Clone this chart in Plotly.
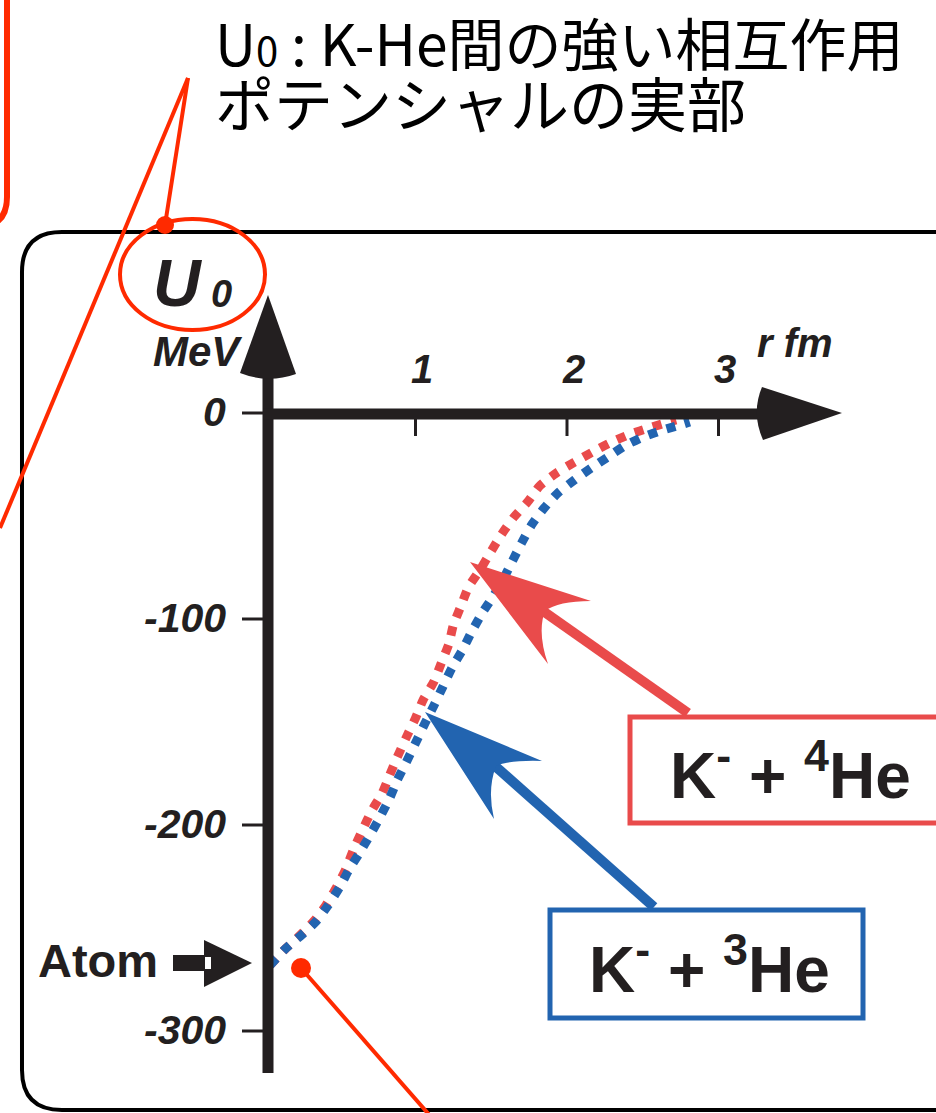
import plotly.graph_objects as go

# K- + 3He (blue) real part of the potential, r in fm, U0 in MeV
r_he3 = [0.04, 0.14, 0.24, 0.34, 0.42, 0.50, 0.56, 0.63, 0.70, 0.77, 0.83, 0.88,
         0.94, 1.00, 1.06, 1.12, 1.18, 1.24, 1.31, 1.37, 1.44, 1.51, 1.58, 1.64,
         1.70, 1.77, 1.85, 1.94, 2.05, 2.16, 2.27, 2.38, 2.50, 2.63, 2.77, 2.81]
u_he3 = [-268.0, -260.2, -253.9, -247.1, -239.3, -230.1, -221.8, -213.6, -204.9,
         -195.6, -186.9, -178.2, -169.4, -160.2, -151.0, -142.2, -133.0, -123.8,
         -115.0, -106.3, -97.1, -89.3, -80.6, -71.8, -63.1, -53.9, -46.1, -38.8,
         -32.5, -26.7, -21.4, -16.0, -11.7, -8.3, -5.3, -4.4]

# K- + 4He (red)
r_he4 = [0.04, 0.14, 0.24, 0.33, 0.41, 0.48, 0.54, 0.59, 0.65, 0.71, 0.78, 0.83,
         0.88, 0.94, 1.00, 1.05, 1.12, 1.17, 1.22, 1.25, 1.30, 1.35, 1.43, 1.50,
         1.57, 1.65, 1.74, 1.82, 1.93, 2.05, 2.17, 2.28, 2.42, 2.54, 2.67, 2.72]
u_he4 = [-268.0, -260.2, -253.4, -246.6, -238.8, -230.1, -221.4, -212.1, -202.4,
         -193.2, -184.5, -175.7, -167.0, -157.3, -148.1, -139.3, -130.6, -121.4,
         -112.1, -102.9, -93.7, -84.5, -75.7, -67.0, -58.7, -50.5, -43.2, -35.4,
         -29.1, -23.8, -18.9, -14.6, -10.2, -7.3, -4.4, -3.4]

x_ticks = [1, 2, 3]
y_ticks = [0, -100, -200, -300]

W, H = 936, 1113
# pixel position of the diagram origin and scale
X0, Y0, SX, SY = 264, 413, 151.5, 2.06

BLACK = "#231F20"
RED = "#E94B4B"
BLUE = "#2264B0"
CALLOUT = "#FF2A00"
FONT = "Liberation Sans, Arial, sans-serif"


def pt(x, y):
    return f"{x / W:.5f},{1 - y / H:.5f}"


def path(s):
    # s: list of (cmd, [(x, y), ...]) in pixels
    out = []
    for cmd, pts in s:
        out.append(cmd + " " + " ".join(pt(*p) for p in pts))
    return " ".join(out)


def line(x0, y0, x1, y1, color, width):
    return dict(type="line", xref="paper", yref="paper",
                x0=x0 / W, y0=1 - y0 / H, x1=x1 / W, y1=1 - y1 / H,
                line=dict(color=color, width=width))


def fill_path(s, color):
    return dict(type="path", xref="paper", yref="paper", path=path(s),
                fillcolor=color, line=dict(width=0))


def rect(x0, y0, x1, y1, color, width, fill=None):
    return dict(type="rect", xref="paper", yref="paper",
                x0=x0 / W, y0=1 - y0 / H, x1=x1 / W, y1=1 - y1 / H,
                line=dict(color=color, width=width), fillcolor=fill)


def dot(x, y, rad, color):
    return dict(type="circle", xref="paper", yref="paper",
                x0=(x - rad) / W, x1=(x + rad) / W,
                y0=1 - (y + rad) / H, y1=1 - (y - rad) / H,
                fillcolor=color, line=dict(width=0))


fig = go.Figure()

fig.add_trace(go.Scatter(x=r_he4, y=u_he4, mode="lines",
                         line=dict(color=RED, width=9, dash="9px,10px",
                                   shape="spline", smoothing=0.6),
                         hoverinfo="skip"))
fig.add_trace(go.Scatter(x=r_he3, y=u_he3, mode="lines",
                         line=dict(color=BLUE, width=9, dash="9px,10px",
                                   shape="spline", smoothing=0.6),
                         hoverinfo="skip"))

shapes = []

# frame of the panel (rounded) and the red box edge at the top left
shapes.append(dict(type="path", xref="paper", yref="paper",
                   path=path([("M", [(960, 232)]), ("L", [(62, 232)]),
                              ("Q", [(22, 232), (22, 272)]), ("L", [(22, 1070)]),
                              ("Q", [(22, 1110), (62, 1110)]), ("L", [(960, 1110)])]),
                   line=dict(color="black", width=4)))
shapes.append(dict(type="path", xref="paper", yref="paper",
                   path=path([("M", [(7, -5)]), ("L", [(7, 197)]),
                              ("Q", [(7, 227), (-23, 227)])]),
                   line=dict(color=CALLOUT, width=6)))

# axes
shapes.append(line(268, 376, 268, 1073, BLACK, 11))
shapes.append(line(263, 414, 762, 414, BLACK, 11))
shapes.append(fill_path([("M", [(268, 295)]), ("L", [(296, 374)]),
                         ("Q", [(268, 384), (240, 373)]), ("Z", [])], BLACK))
shapes.append(fill_path([("M", [(842, 413)]), ("L", [(762, 387)]),
                         ("Q", [(751, 413), (763, 440)]), ("Z", [])], BLACK))

for t in x_ticks:
    shapes.append(dict(type="line", xref="x", yref="paper", x0=t, x1=t,
                       y0=1 - 419 / H, y1=1 - 436 / H,
                       line=dict(color=BLACK, width=3)))
for t in y_ticks:
    shapes.append(dict(type="line", xref="paper", yref="y", x0=242 / W, x1=264 / W,
                       y0=t, y1=t, line=dict(color=BLACK, width=3)))

# Atom arrow
shapes.append(rect(173, 955, 206, 971, BLACK, 0, BLACK))
shapes.append(fill_path([("M", [(204, 940)]), ("L", [(252, 963)]),
                         ("L", [(204, 987)]), ("Z", [])], BLACK))
shapes.append(rect(205, 957, 211, 969, "white", 0, "white"))

# pointer arrows
shapes.append(line(543, 611, 688, 713, RED, 10))
shapes.append(fill_path([("M", [(470, 562)]), ("L", [(591, 601)]),
                         ("Q", [(558, 601), (545, 611)]),
                         ("Q", [(537, 632), (548, 664)]), ("Z", [])], RED))
shapes.append(line(495, 766, 654, 907, BLUE, 10))
shapes.append(fill_path([("M", [(425, 712)]), ("L", [(542, 761)]),
                         ("Q", [(509, 760), (496, 766)]),
                         ("Q", [(487, 790), (494, 819)]), ("Z", [])], BLUE))

# label boxes
shapes.append(rect(630, 717, 950, 823, RED, 5, "white"))
shapes.append(rect(550, 910, 863, 1018, BLUE, 5, "white"))

# callouts
shapes.append(dict(type="circle", xref="paper", yref="paper",
                   x0=120 / W, x1=265 / W, y0=1 - 330 / H, y1=1 - 219 / H,
                   line=dict(color=CALLOUT, width=4)))
shapes.append(line(188, 78, 0, 528, CALLOUT, 4))
shapes.append(line(188, 78, 165, 225, CALLOUT, 4))
shapes.append(dot(165, 225, 9, CALLOUT))
shapes.append(line(301, 968, 432, 1118, CALLOUT, 4))
shapes.append(dot(301, 968, 10, CALLOUT))

ann = []


def text(x, y, s, size, anchor="center", bold=True, italic=True,
         family=FONT, color=BLACK):
    ann.append(dict(x=x / W, y=1 - y / H, xref="paper", yref="paper", text=s,
                    showarrow=False, xanchor=anchor, yanchor="middle",
                    font=dict(family=family, size=size, color=color,
                              weight="bold" if bold else "normal",
                              style="italic" if italic else "normal")))


for t in x_ticks:
    ann.append(dict(x=t, y=0, xref="x", yref="y", text=str(t), showarrow=False,
                    xanchor="center", yanchor="middle", xshift=6, yshift=44,
                    font=dict(family=FONT, size=40, color=BLACK,
                              weight="bold", style="italic")))
for t in y_ticks:
    ann.append(dict(x=0, y=t, xref="x", yref="y", text=str(t), showarrow=False,
                    xanchor="right", yanchor="middle", xshift=-36, yshift=1,
                    font=dict(family=FONT, size=41, color=BLACK,
                              weight="bold", style="italic")))

text(178, 283, "U", 66)
text(221, 294, "0", 38)
text(197, 352, "MeV", 42)
text(795, 343, "r fm", 40)
text(36, 960, "Atom", 47, anchor="left", italic=False)
text(790, 771, "K<sup>-</sup> + <sup>4</sup>He", 64, italic=False)
text(709, 965, "K<sup>-</sup> + <sup>3</sup>He", 64, italic=False)

jp = "Noto Sans CJK JP"
text(213, 41, "U<span style='font-size:40px'>0</span> : K-He間の強い相互作用", 57,
     anchor="left", bold=False, italic=False, family=jp, color="black")
text(213, 101, "ポテンシャルの実部", 59, anchor="left",
     bold=False, italic=False, family=jp, color="black")

fig.update_layout(
    width=W, height=H,
    margin=dict(l=0, r=0, t=0, b=0),
    paper_bgcolor="white", plot_bgcolor="white",
    showlegend=False,
    shapes=shapes,
    annotations=ann,
    xaxis=dict(range=[-X0 / SX, (W - X0) / SX], visible=False, fixedrange=True),
    yaxis=dict(range=[(Y0 - H) / SY, Y0 / SY], visible=False, fixedrange=True),
)

# drop the browser's default page margin so the figure starts at the corner
fig.write_html("out.html", config={"displayModeBar": False},
               post_script="document.body.style.margin='0';")
